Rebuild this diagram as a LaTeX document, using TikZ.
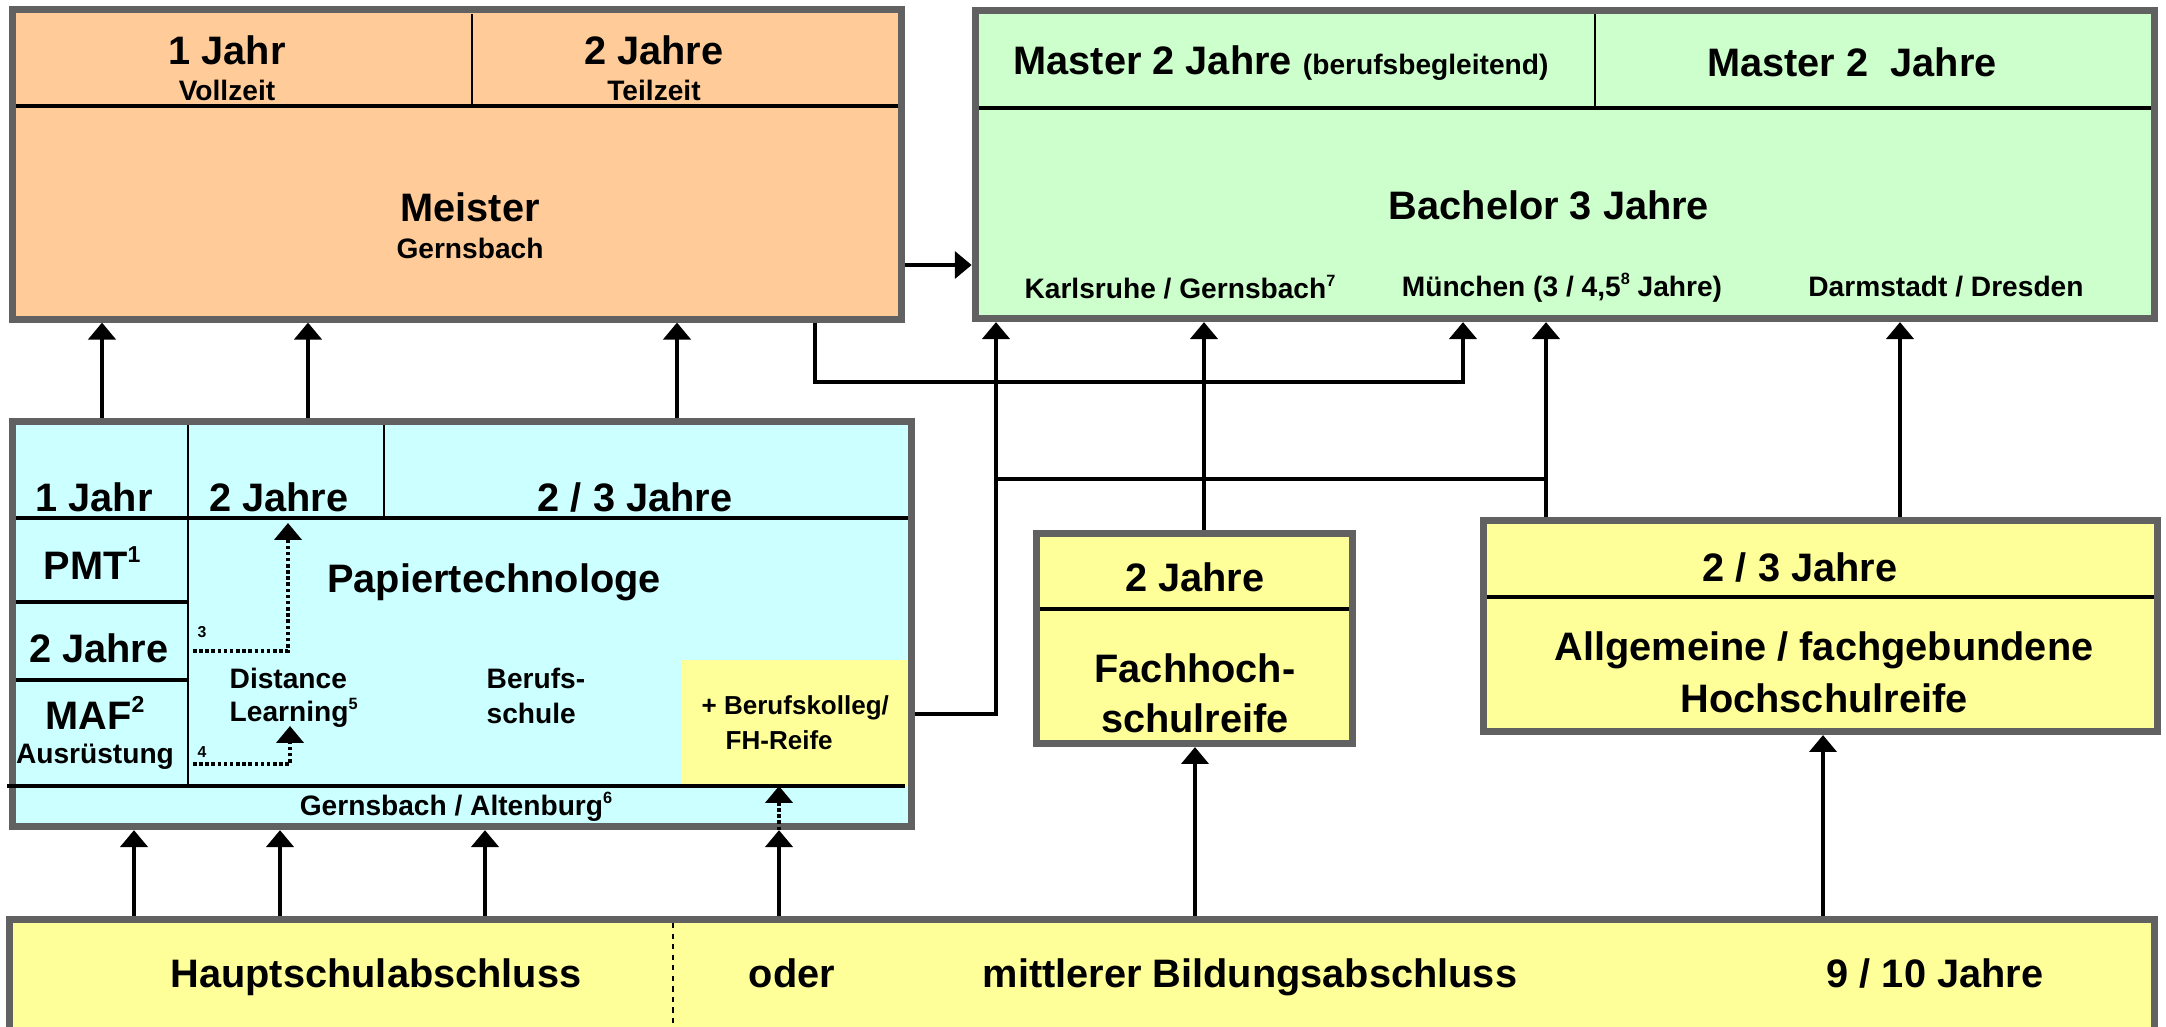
\documentclass[tikz,border=0pt]{standalone}
\usepackage{fontspec}
\setmainfont{Liberation Sans}
\usetikzlibrary{arrows.meta}

\definecolor{peach}{HTML}{FFCC99}
\definecolor{mint}{HTML}{CCFFCC}
\definecolor{icecyan}{HTML}{CCFFFF}
\definecolor{paleyellow}{HTML}{FFFF99}
\definecolor{rimgray}{HTML}{616161}

\newcommand{\bigtxt}{\fontsize{11.3}{13}\selectfont\bfseries}
\newcommand{\medtxt}{\fontsize{8}{9.6}\selectfont\bfseries}
\newcommand{\smltxt}{\fontsize{7.4}{9}\selectfont\bfseries}
\newcommand{\tinytxt}{\fontsize{4.5}{5}\selectfont\bfseries}
\newcommand{\fnmark}[1]{\raisebox{0.42em}{\scalebox{0.58}{#1}}}

\tikzset{
  box/.style={draw=rimgray, line width=2pt, inner sep=0pt},
  link/.style={line width=1.1pt},
  arr/.style={link, -{Triangle[width=7.7pt,length=4.8pt]}},
  dotarr/.style={line width=1.1pt, dash pattern=on 1pt off 0.75pt, -{Triangle[width=7.7pt,length=4.8pt]}},
  divh/.style={line width=1.2pt},
  divv/.style={line width=0.7pt},
  bigtext/.style={font=\bigtxt, inner sep=0pt},
  medtext/.style={font=\medtxt, inner sep=0pt},
  smltext/.style={font=\smltxt, inner sep=0pt, anchor=west},
  tinytext/.style={font=\tinytxt, inner sep=0pt}
}

\begin{document}
\begin{tikzpicture}[x=0.01cm, y=-0.01cm]
    \useasboundingbox (0,0) rectangle (2166,1026);

    \node[box, fill=peach, minimum width=8.89cm, minimum height=3.09cm] (meister) at (457,164.5) {};
    \node[box, fill=mint, minimum width=11.79cm, minimum height=3.08cm] (bsc) at (1565,164.5) {};
    \node[box, fill=icecyan, minimum width=8.99cm, minimum height=4.05cm] (ptech) at (462,624) {};
    \node[box, fill=paleyellow, minimum width=3.16cm, minimum height=2.10cm] (fhr) at (1194.5,638.5) {};
    \node[box, fill=paleyellow, minimum width=6.74cm, minimum height=2.11cm] (ahr) at (1820.5,626) {};
    \node[box, fill=paleyellow, minimum width=21.43cm, minimum height=1.805cm] (schule) at (1082,1009.75) {};

    \draw[divh] (16,106) -- (898,106);
    \draw[divv] (472,14) -- (472,106);
    \draw[divh] (979,108) -- (2151,108);
    \draw[divv] (1595,14) -- (1595,108);

    \fill[paleyellow] (681,660) rectangle (908,786);
    \draw[divh] (16,518) -- (908,518);
    \draw[divv] (188,425) -- (188,786);
    \draw[divv] (384,425) -- (384,518);
    \draw[divh] (16,602) -- (188,602);
    \draw[divh] (16,680) -- (188,680);
    \draw[divh] (7,786) -- (905,786);

    \draw[divh] (1040,609) -- (1349,609);
    \draw[divh] (1487,597) -- (2154,597);
    \draw[line width=0.6pt, dash pattern=on 1.5pt off 1.5pt] (673,923) -- (673,1030);

    \node[bigtext] (mjahr) at (227,50) {1 Jahr};
    \node[medtext] (mvoll) at (227,90) {Vollzeit};
    \node[bigtext] (mjahre) at (654,50) {2 Jahre};
    \node[medtext] (mteil) at (654,90) {Teilzeit};
    \node[bigtext] (mname) at (470,207) {Meister};
    \node[medtext] (mort) at (470,248) {Gernsbach};

    \node[bigtext] (masta) at (1281,63) {Master 2 Jahre {\medtxt (berufsbegleitend)}};
    \node[bigtext] (mastb) at (1852,62) {Master 2\ \ Jahre};
    \node[bigtext] (bname) at (1549,205) {Bachelor 3 Jahre};
    \node[medtext] (bka) at (1180,287) {Karlsruhe / Gernsbach\fnmark{7}};
    \node[medtext] (bmu) at (1562,288) {München (3 / 4,5\fnmark{8} Jahre)};
    \node[medtext] (bda) at (1946,287) {Darmstadt / Dresden};

    \node[bigtext] (pone) at (94,497) {1 Jahr};
    \node[bigtext] (ptwo) at (279,497) {2 Jahre};
    \node[bigtext] (pthree) at (635,497) {2 / 3 Jahre};
    \node[bigtext] (pmt) at (92,563) {PMT\fnmark{1}};
    \node[bigtext] (pname) at (494,582) {Papiertechnologe};
    \node[bigtext] (pmaf) at (99,648) {2 Jahre};
    \node[bigtext] (maf) at (95,713) {MAF\fnmark{2}};
    \node[medtext] (ausr) at (95,757) {Ausrüstung};
    \node[medtext, anchor=west] (dist) at (229,678) {Distance};
    \node[medtext, anchor=west] (learn) at (229,713) {Learning\fnmark{5}};
    \node[medtext, anchor=west] (beru) at (486,678) {Berufs-};
    \node[medtext, anchor=west] (schu) at (486,713) {schule};
    \node[smltext] (kolleg) at (701,708) {+ Berufskolleg/};
    \node[smltext] (fhreife) at (725,740) {FH-Reife};
    \node[medtext] (port) at (456,807) {Gernsbach / Altenburg\fnmark{6}};
    \node[tinytext] (fnthree) at (202,632) {3};
    \node[tinytext] (fnfour) at (202,752) {4};

    \node[bigtext] (fjahre) at (1195,577) {2 Jahre};
    \node[bigtext] (fnamea) at (1195,668) {Fachhoch-};
    \node[bigtext] (fnameb) at (1195,718) {schulreife};

    \node[bigtext] (ajahre) at (1800,567) {2 / 3 Jahre};
    \node[bigtext] (anamea) at (1824,650) {Allgemeine / fachgebundene};
    \node[bigtext] (anameb) at (1824,698) {Hochschulreife};

    \node[bigtext, anchor=base] (haupt) at (376,987) {Hauptschulabschluss};
    \node[bigtext, anchor=base] (oder) at (792,987) {oder};
    \node[bigtext, anchor=base] (mittl) at (1250,987) {mittlerer Bildungsabschluss};
    \node[bigtext, anchor=base] (jahre) at (1935,987) {9 / 10 Jahre};

    \draw[arr] (meister.east |- 0,265) -- (bsc.west |- 0,265);
    \foreach \xx in {102,308,677}{
      \draw[arr] (ptech.north -| \xx,0) -- (meister.south -| \xx,0);
    }
    \foreach \xx in {134,280,485,779}{
      \draw[arr] (schule.north -| \xx,0) -- (ptech.south -| \xx,0);
    }
    \draw[arr] (schule.north -| 1195,0) -- (fhr.south -| 1195,0);
    \draw[arr] (schule.north -| 1823,0) -- (ahr.south -| 1823,0);
    \draw[arr] (fhr.north -| 1204,0) -- (bsc.south -| 1204,0);
    \draw[arr] (ahr.north -| 1546,0) -- (bsc.south -| 1546,0);
    \draw[arr] (ahr.north -| 1900,0) -- (bsc.south -| 1900,0);
    \draw[arr] (ptech.east |- 0,714) -| (bsc.south -| 996,0);
    \draw[arr] (meister.south -| 815,0) |- (1463,382) -- (bsc.south -| 1463,0);
    \draw[link] (996,479) -- (1546,479);

    \draw[dotarr] (193,651) -| (288,523);
    \draw[dotarr] (193,764) -| (290,726);
    \draw[dotarr] (ptech.south -| 779,0) -- (779,786);
\end{tikzpicture}
\end{document}
